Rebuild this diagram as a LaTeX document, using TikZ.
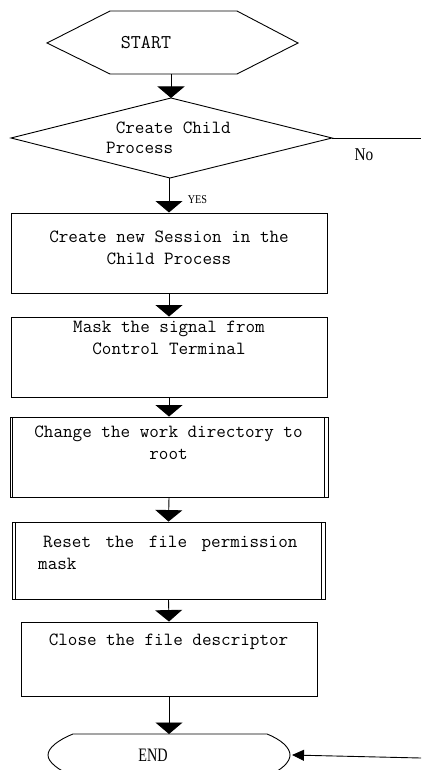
\documentclass[tikz,border=0pt]{standalone}
\usepackage{fontspec}
\usepackage{graphicx}
\usetikzlibrary{arrows.meta}
\newfontfamily\monofont{Latin Modern Mono}
\newfontfamily\seriffont{Liberation Serif}
\tikzset{
  shapeline/.style={draw=black, line width=0.9pt},
  boxnode/.style={draw=black, line width=0.9pt, rectangle, inner sep=0pt, minimum width=316pt},
  txt/.style={font=\monofont\fontsize{18.6}{22}\selectfont, inner sep=0pt, align=center},
  flow/.style={line width=0.9pt, -{Triangle[width=27pt,length=11.5pt]}},
  back/.style={line width=0.9pt, -{Triangle[width=11pt,length=12pt]}},
  plain/.style={line width=0.9pt},
}
\begin{document}
\begin{tikzpicture}[x=1pt,y=-1pt]
\useasboundingbox (0,0) rectangle (421,770);
\fill[white] (0,0) rectangle (421,770);
\clip (0,0) rectangle (421,770);

% START hexagon
\draw[shapeline] (47,43) -- (110,11) -- (237,11) -- (298,43) -- (237,74) -- (110,74) -- cycle;
\node[txt, font=\monofont\fontsize{19.5}{20}\selectfont] (start) at (146,43) {START};
\coordinate (hexB) at (171,74);

% decision diamond
\draw[shapeline] (11,138) -- (171,98) -- (332,138) -- (170,178) -- cycle;
\coordinate (dT) at (171,98);
\coordinate (dR) at (332,138);
\coordinate (dB) at (169,178);
\node[txt, anchor=west, align=left, font=\monofont\fontsize{18.6}{20}\selectfont] (dec) at (106,138) {\ Create Child\\Process};

% boxes
\node[boxnode, line width=1pt, minimum height=80pt] (b1) at (169,253) {};
\node[txt] (t1) at (169,247.5) {Create new Session in the\\Child Process};

\node[boxnode, minimum height=80pt] (b2) at (169,357) {};
\node[txt] (t2) at (169,338) {Mask the signal from\\Control Terminal};

\node[boxnode, minimum width=318pt, minimum height=80pt] (b3) at (169,457) {};
\draw[plain] (12.8,417) -- (12.8,497) (324.3,417) -- (324.3,497);
\node[txt] (t3) at (168.5,442.5) {Change the work directory to\\root};

\node[boxnode, minimum width=313pt, minimum height=77pt] (b4) at (168.5,560.5) {};
\draw[plain] (15,522) -- (15,599) (321.8,522) -- (321.8,599);
\node[txt, anchor=west, align=left] (t4) at (38,552.5) {\hspace{5pt}Reset\hspace{14.5pt}the\hspace{14.5pt}file\hspace{14.5pt}permission\\mask};

\node[boxnode, minimum width=296pt, minimum height=74pt] (b5) at (169,659) {};
\node[txt] (t5) at (168.5,642) {Close the file descriptor};

% END terminator
\draw[shapeline] (73,734) -- (267,734) .. controls (282,740) and (290,748) .. (290,755)
  .. controls (290,762) and (282,770) .. (267,776) -- (73,776)
  .. controls (58,770) and (48,762) .. (48,755)
  .. controls (48,748) and (58,740) .. (73,734) -- cycle;
\node[inner sep=0pt, font=\seriffont\fontsize{19}{20}\selectfont] (endt) at (153,755) {\scalebox{0.75}[1]{END}};
\coordinate (endT) at (169,734);
\coordinate (endR) at (292,755);

% connectors
\draw[flow] (hexB) -- (dT);
\draw[flow] (dB) -- (b1.north);
\draw[flow] (b1.south) -- (b2.north);
\draw[flow] (b2.south) -- (b3.north);
\draw[flow] (b3.south) -- (b4.north);
\draw[flow] (b4.south) -- (b5.north);
\draw[flow] (b5.south) -- (endT);

\coordinate (noEnd) at (421,138);
\draw[plain] (dR) -- (noEnd);
\coordinate (backStart) at (421,758);
\draw[back] (backStart) -- (endR);

% labels
\node[inner sep=0pt, font=\seriffont\fontsize{18}{20}\selectfont] (no) at (364,155) {\scalebox{0.85}[1]{No}};
\node[inner sep=0pt, font=\seriffont\fontsize{12}{12}\selectfont] (yes) at (197.5,200) {\scalebox{0.85}[1]{YES}};
\end{tikzpicture}
\end{document}
